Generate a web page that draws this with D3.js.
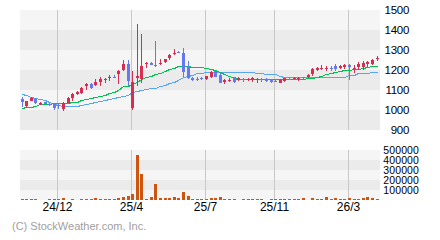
<!DOCTYPE html>
<html>
<head>
<meta charset="utf-8">
<script src="https://cdn.jsdelivr.net/npm/d3@7"></script>
<style>
  body { margin: 0; background: #fff; }
  text { font-family: "Liberation Sans", Arial, sans-serif; }
</style>
</head>
<body>
<div id="chart"></div>
<script>
// weekly candles
let open = [1053,1020,1047,1053,1030,1040,1030,1033,1027,1005,
  1037,1062,1078,1083,1120,1130,1127,1142,1150,1160,
  1165,1182,1200,1230,1010,1158,1155,1228,1233,1223,
  1228,1240,1260,1282,1292,1287,1220,1162,1157,1160,
  1155,1167,1195,1175,1140,1148,1163,1150,1155,1152,
  1150,1152,1155,1150,1150,1147,1137,1143,1157,1157,
  1155,1163,1163,1180,1200,1208,1208,1210,1220,1210,
  1217,1225,1207,1217,1217,1228,1228,1255];
let close = [1040,1043,1062,1037,1037,1028,1025,1010,1025,1033,
  1060,1080,1092,1110,1130,1110,1140,1155,1155,1165,
  1163,1193,1230,1143,1142,1170,1220,1233,1227,1220,
  1233,1253,1273,1285,1287,1192,1160,1150,1150,1157,
  1170,1192,1167,1137,1150,1150,1142,1158,1153,1155,
  1162,1155,1153,1148,1142,1145,1150,1158,1155,1160,
  1158,1160,1177,1203,1210,1210,1210,1208,1207,1222,
  1225,1217,1210,1228,1233,1240,1250,1258];
let high = [1066,1045,1065,1062,1042,1042,1035,1035,1030,1040,
  1065,1085,1095,1115,1135,1135,1155,1167,1162,1175,
  1175,1200,1250,1250,1195,1430,1380,1242,1240,1345,
  1253,1257,1280,1303,1293,1308,1245,1167,1167,1167,
  1170,1195,1200,1185,1155,1160,1167,1163,1162,1160,
  1167,1162,1160,1158,1155,1153,1155,1162,1163,1167,
  1167,1165,1180,1208,1217,1223,1220,1220,1230,1223,
  1228,1228,1223,1238,1243,1243,1253,1270];
let low = [1015,1008,1045,1030,1025,1025,1020,1000,1005,995,
  1035,1045,1075,1080,1100,1105,1120,1122,1133,1145,
  1158,1128,1197,1122,1000,1120,1133,1212,1225,1217,
  1223,1237,1250,1273,1283,1163,1153,1143,1143,1150,
  1150,1160,1163,1133,1130,1140,1133,1143,1138,1147,
  1142,1137,1140,1142,1137,1138,1133,1140,1150,1153,
  1147,1155,1160,1170,1197,1200,1195,1193,1193,1205,
  1203,1150,1187,1200,1200,1217,1223,1243];
let volume = [10000,10000,10000,10000,3000,3000,10000,10000,10000,20000,
  3000,10000,3000,10000,10000,10000,20000,10000,10000,10000,
  10000,20000,30000,40000,60000,450000,260000,10000,30000,160000,
  20000,20000,20000,30000,20000,80000,40000,10000,10000,10000,
  10000,20000,20000,30000,10000,10000,10000,3000,10000,10000,
  10000,10000,10000,3000,10000,10000,10000,10000,10000,10000,
  10000,20000,3000,20000,10000,10000,30000,10000,20000,10000,
  10000,20000,10000,10000,20000,30000,20000,10000];
// short and long moving average lines
let maShort = [1008,1015,1017,1020,1028,1030,1030,1033,1033,1035,
  1037,1038,1040,1050,1057,1060,1067,1072,1077,1085,
  1090,1102,1118,1122,1129,1141,1154,1163,1170,1180,
  1187,1195,1203,1212,1222,1222,1218,1217,1217,1215,
  1212,1205,1198,1190,1178,1170,1160,1155,1155,1155,
  1155,1155,1155,1155,1155,1155,1155,1155,1155,1155,
  1155,1155,1158,1160,1163,1170,1178,1185,1192,1195,
  1198,1200,1203,1207,1210,1215,1220,1222];
let maLong = [1078,1074,1067,1062,1056,1050,1040,1030,1023,1021,
  1021,1021,1021,1023,1030,1037,1040,1045,1050,1057,
  1062,1067,1070,1075,1088,1097,1100,1103,1108,1112,
  1120,1127,1133,1140,1150,1163,1170,1177,1187,1187,
  1188,1192,1192,1192,1192,1192,1191,1190,1190,1190,
  1188,1185,1183,1178,1178,1178,1172,1167,1167,1167,
  1163,1163,1163,1163,1163,1163,1163,1163,1167,1167,
  1167,1175,1175,1183,1183,1183,1190,1192];
let xLabels = ["24/12", "25/4", "25/7", "25/11", "26/3"];
let xLabelIdx = [8, 24, 40, 55, 71];
let priceTicks = [900, 1000, 1100, 1200, 1300, 1400, 1500];
let volTicks = [0, 100000, 200000, 300000, 400000, 500000];

let svgWidth = 440, svgHeight = 240;
let plotLeft = 20, plotRight = 380;

let svg = d3.select("#chart").append("svg")
  .attr("width", svgWidth)
  .attr("height", svgHeight);

let x = d3.scaleLinear().domain([0, open.length - 1]).range([21.5, 376.7]);
let y = d3.scaleLinear().domain([900, 1500]).range([130, 10]);
let yv = d3.scaleLinear().domain([0, 500000]).range([200, 150]);

// background bands
function bands(ticks, scale, firstLight) {
  for (let i = ticks.length - 1; i > 0; i--) {
    let top = scale(ticks[i]), bot = scale(ticks[i - 1]);
    let k = ticks.length - 1 - i;
    svg.append("rect")
      .attr("x", plotLeft).attr("y", top)
      .attr("width", plotRight - plotLeft).attr("height", bot - top)
      .attr("fill", (k % 2 === 0) === firstLight ? "#f5f5f5" : "#ebebeb");
  }
}
bands(priceTicks, y, true);
bands(volTicks, yv, true);

// vertical grid lines
xLabelIdx.forEach(function(i) {
  let gx = Math.round(x(i) - 1) + 0.5;
  [[10, 130], [150, 200]].forEach(function(r) {
    svg.append("line")
      .attr("x1", gx).attr("x2", gx)
      .attr("y1", r[0]).attr("y2", r[1])
      .attr("stroke", "#c8c8c8");
  });
});

// moving averages
let line = function(vals) {
  return d3.line()
    .x(function(d, i) { return Math.round(x(i)) + 0.5; })
    .y(function(d) { return Math.round(y(d)) + 0.5; })(vals);
};
svg.append("path").attr("d", line(maLong))
  .attr("fill", "none").attr("stroke", "#5aa5f0").attr("stroke-width", 1)
  .attr("shape-rendering", "crispEdges");
svg.append("path").attr("d", line(maShort))
  .attr("fill", "none").attr("stroke", "#00c050").attr("stroke-width", 1)
  .attr("shape-rendering", "crispEdges");

// candles
let candles = svg.append("g").attr("shape-rendering", "crispEdges");
open.forEach(function(o, i) {
  let c = close[i];
  let col = c >= o ? "#d82c50" : "#6478f0";
  let cx = Math.round(x(i));
  candles.append("rect")
    .attr("x", cx).attr("width", 1)
    .attr("y", Math.round(y(high[i])))
    .attr("height", Math.max(1, Math.round(y(low[i])) - Math.round(y(high[i]))))
    .attr("fill", col);
  let top = Math.round(y(Math.max(o, c)));
  let bot = Math.round(y(Math.min(o, c)));
  candles.append("rect")
    .attr("x", cx - 1).attr("width", 3)
    .attr("y", top).attr("height", Math.max(1, bot - top))
    .attr("fill", col);
});

// volume bars
let vbars = svg.append("g").attr("shape-rendering", "crispEdges");
volume.forEach(function(v, i) {
  let top = Math.round(yv(v));
  if (200 - top < 1) return;
  vbars.append("rect")
    .attr("x", Math.round(x(i)) - 1).attr("width", 3)
    .attr("y", top).attr("height", 200 - top)
    .attr("fill", "#cc5511");
});

// axis labels
priceTicks.forEach(function(t) {
  svg.append("text")
    .attr("x", 409).attr("y", y(t) + 4)
    .attr("text-anchor", "end")
    .attr("font-size", 11.5).attr("letter-spacing", -0.3)
    .text(t);
});
volTicks.slice(1).forEach(function(t) {
  svg.append("text")
    .attr("x", 419).attr("y", yv(t) + 3.5)
    .attr("text-anchor", "end")
    .attr("font-size", 10.5).attr("letter-spacing", 0.1)
    .text(t);
});
xLabelIdx.forEach(function(i, k) {
  svg.append("text")
    .attr("x", Math.round(x(i) - 1) + 0.5).attr("y", 211)
    .attr("text-anchor", "middle")
    .attr("font-size", 12)
    .text(xLabels[k]);
});

svg.append("text")
  .attr("x", 12).attr("y", 230)
  .attr("font-size", 11).attr("fill", "#a0a0a0")
  .text("(C) StockWeather.com, Inc.");
</script>
</body>
</html>
